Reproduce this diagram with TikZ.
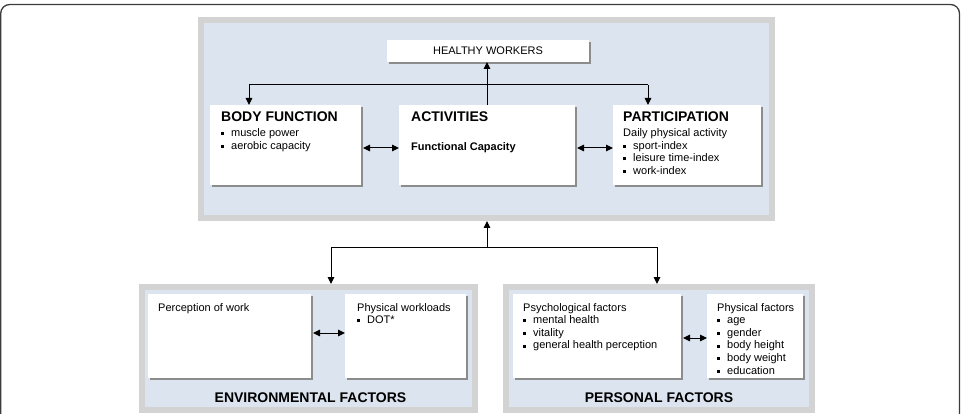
\documentclass[tikz,border=0pt]{standalone}
\usepackage{fontspec}
\setmainfont{Liberation Sans}
\usepackage{tikz}
\usetikzlibrary{arrows.meta,shadows}
\usepackage{xcolor}
\definecolor{panelblue}{RGB}{220,228,239}
\definecolor{panelgrey}{RGB}{211,211,211}
\definecolor{boxshade}{RGB}{140,140,140}
\definecolor{framegrey}{RGB}{60,60,60}
\newcommand{\sqitem}{\rule[1.4pt]{3pt}{3pt}\hspace{7pt}}
\newcommand{\headfont}{\fontsize{14}{16}\selectfont\bfseries}

\begin{document}
\begin{tikzpicture}[x=1pt, y=-1pt,
    panel/.style={draw=panelgrey, line width=6pt, fill=panelblue, anchor=north west,
                  inner sep=0pt, outer sep=3pt},
    card/.style={fill=white, anchor=north west, inner sep=0pt, outer sep=0pt,
                 font=\fontsize{11}{12.6}\selectfont,
                 general shadow={fill=boxshade, shadow xshift=2pt, shadow yshift=-2pt}},
    txt/.style={anchor=north west, inner sep=0pt, align=left, font=\fontsize{11}{12.6}\selectfont},
    tip/.style={line width=1pt, -{Triangle[length=7pt,width=6.5pt]}},
    dbl/.style={line width=1pt, {Triangle[length=7pt,width=6.5pt]}-{Triangle[length=7pt,width=6.5pt]}}]
        \useasboundingbox (0,0) rectangle (961,414);
        % Frame
        \draw[framegrey, line width=1.3pt, rounded corners=9pt] (0.7,4.5) rectangle (959.5,440);

        % Panels
        \node[panel, minimum width=571pt, minimum height=198pt] (work) at (198,17) {};
        \node[panel, minimum width=333pt, minimum height=123pt] (env) at (139,284) {};
        \node[panel, minimum width=306pt, minimum height=123pt] (pers) at (503,284) {};

        % Work domain
        \node[card, minimum width=202pt, minimum height=22pt] (healthy) at (387,40) {HEALTHY WORKERS};
        \node[card, minimum width=151pt, minimum height=80pt] (body) at (210,105) {};
        \node[card, minimum width=176pt, minimum height=80pt] (act) at (399,105) {};
        \node[card, minimum width=148pt, minimum height=80pt] (part) at (613,105) {};
        \node[txt] (bodyTxt) at ([xshift=11pt,yshift=-7pt]body.north west)
          {{\headfont BODY FUNCTION}\\[2pt] \sqitem muscle power\\ \sqitem aerobic capacity};
        \node[txt] (actTxt) at ([xshift=12pt,yshift=-7pt]act.north west) {\headfont ACTIVITIES};
        \node[txt, anchor=base west] (actSub) at ([xshift=12pt,yshift=-46pt]act.north west)
          {\bfseries Functional Capacity};
        \node[txt] (partTxt) at ([xshift=10pt,yshift=-7pt]part.north west)
          {{\headfont PARTICIPATION}\\[2pt] Daily physical activity\\ \sqitem sport-index\\
           \sqitem leisure time-index\\ \sqitem work-index};

        \draw[tip] (act.north) -- (act.north |- healthy.south);
        \coordinate (barL) at (249,85);
        \coordinate (barR) at (648,85);
        \draw[line width=1pt] (barL) -- (barR);
        \draw[tip] (barL) -- (barL |- body.north);
        \draw[tip] (barR) -- (barR |- part.north);
        \draw[dbl] ([xshift=2pt,yshift=-3pt]body.east) -- ([yshift=-3pt]act.west);
        \draw[dbl] ([xshift=2pt,yshift=-3pt]act.east) -- ([yshift=-3pt]part.west);

        % Links to the factors
        \coordinate (split) at (487,247);
        \coordinate (splitL) at (331,247);
        \coordinate (splitR) at (657,247);
        \draw[tip] (split) -- (split |- work.south);
        \draw[line width=1pt] (splitL) -- (splitR);
        \draw[tip] (splitL) -- (splitL |- env.north);
        \draw[tip] (splitR) -- (splitR |- pers.north);

        % Environmental factors
        \node[card, minimum width=163pt, minimum height=84pt] (perc) at (148,294) {};
        \node[card, minimum width=121pt, minimum height=84pt] (phys) at (345,294) {};
        \node[txt] (percTxt) at ([xshift=10pt,yshift=-9pt]perc.north west) {Perception of work};
        \node[txt] (physTxt) at ([xshift=12pt,yshift=-9pt]phys.north west)
          {Physical workloads\\ \sqitem DOT*};
        \draw[dbl] ([xshift=2pt,yshift=3pt]perc.east) -- ([yshift=3pt]phys.west);
        \node[font=\headfont] (envLbl) at ([xshift=2pt,yshift=15pt]env.south) {ENVIRONMENTAL FACTORS};

        % Personal factors
        \node[card, minimum width=168pt, minimum height=84pt] (psych) at (513,294) {};
        \node[card, minimum width=96pt, minimum height=84pt] (physf) at (707,294) {};
        \node[txt] (psychTxt) at ([xshift=10pt,yshift=-9pt]psych.north west)
          {Psychological factors\\ \sqitem mental health\\ \sqitem vitality\\
           \sqitem general health perception};
        \node[txt] (physfTxt) at ([xshift=10pt,yshift=-9pt]physf.north west)
          {Physical factors\\ \sqitem age\\ \sqitem gender\\ \sqitem body height\\
           \sqitem body weight\\ \sqitem education};
        \draw[dbl] ([xshift=2pt,yshift=-2pt]psych.east) -- ([yshift=-2pt]physf.west);
        \node[font=\headfont] (persLbl) at ([yshift=15pt]pers.south) {PERSONAL FACTORS};
      \end{tikzpicture}
\end{document}
